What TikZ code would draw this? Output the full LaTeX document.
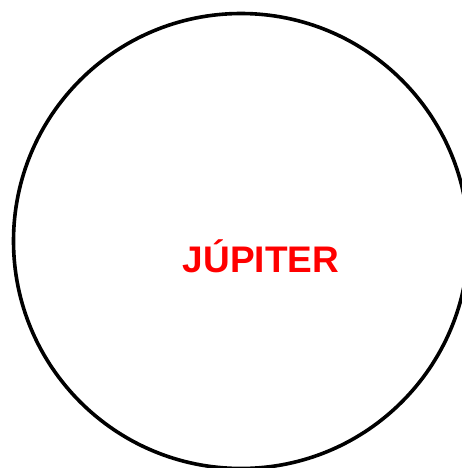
\documentclass[tikz,border=0pt]{standalone}
\usepackage{fontspec}
\setmainfont{Liberation Sans}
\begin{document}
\begin{tikzpicture}[x=1pt,y=-1pt]
\useasboundingbox (0,0) rectangle (462,468);
\begin{scope}
\clip (0,0) rectangle (462,468);
\draw[line width=3.6pt] (241,241) circle[radius=227.5] node (c) {};
\end{scope}
\node[text=red,font=\bfseries\fontsize{37}{44}\selectfont,anchor=base] (t) at (261,272.5) {JÚPITER};
\end{tikzpicture}
\end{document}
